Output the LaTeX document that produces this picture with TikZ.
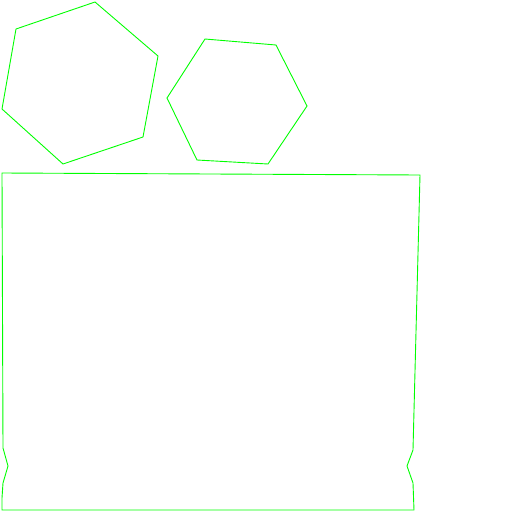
\documentclass[tikz,border=0pt]{standalone}
\begin{document}
\begin{tikzpicture}[x=1pt,y=-1pt,greenline/.style={draw={rgb,255:red,0;green,255;blue,0},line width=0.9pt,line join=miter}]
\useasboundingbox (0,0) rectangle (512,512);
\draw[greenline] (95,2) -- (158,56) -- (143,137) -- (63,164) -- (2,109) -- (16,29) -- cycle;
\draw[greenline] (205,39) -- (276,45) -- (307,106) -- (268,164) -- (197,160) -- (167,98) -- cycle;
\draw[greenline] (2,173) -- (420,175) -- (413,450) -- (407,466) -- (413,483) -- (414,510) -- (2,510) -- (2,498) -- (3,483) -- (8,466) -- (3,448) -- cycle;
\end{tikzpicture}
\end{document}
